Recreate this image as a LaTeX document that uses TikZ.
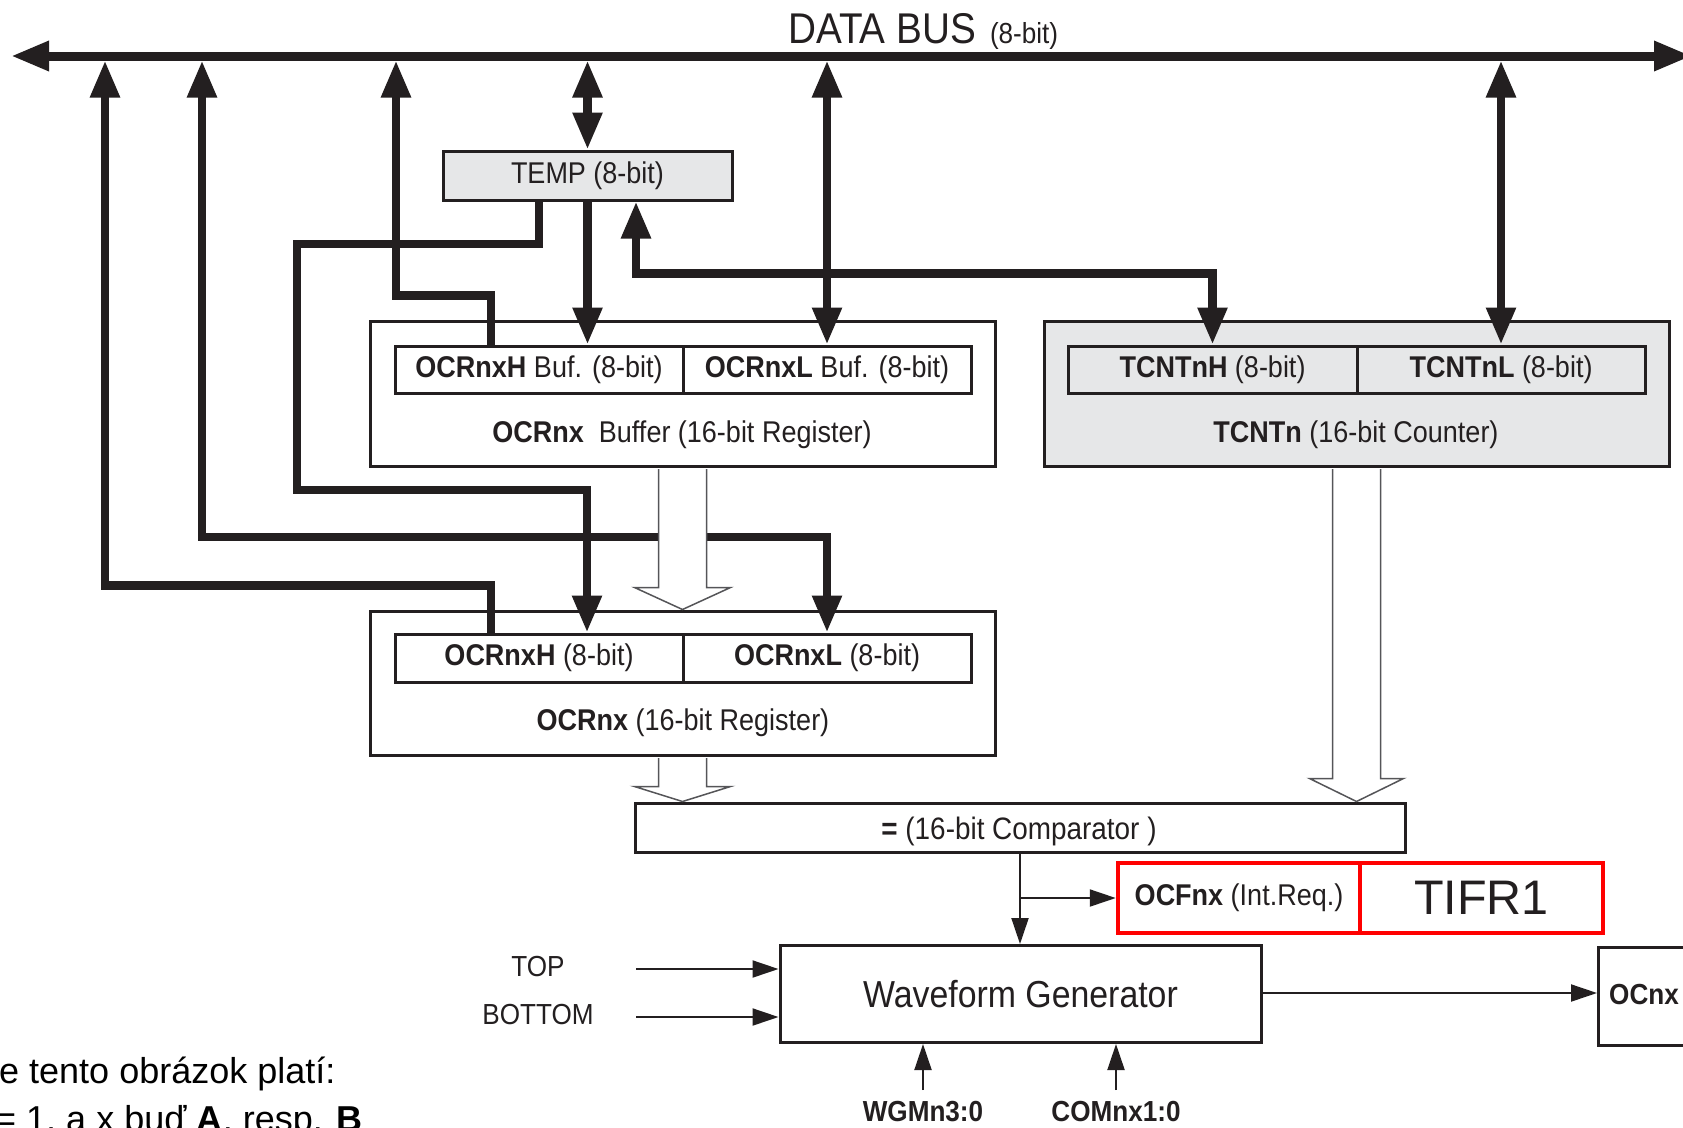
\documentclass[tikz,border=0pt]{standalone}
\usepackage{fontspec}
\setmainfont{Liberation Sans}[FakeStretch=0.9]
\newfontfamily\plainsans{Liberation Sans}
\usetikzlibrary{arrows.meta,calc}
\definecolor{ink}{RGB}{35,31,32}
\definecolor{regfill}{RGB}{230,231,232}
\definecolor{hollowc}{RGB}{85,85,88}
\newcommand{\setfs}[1]{\fontsize{#1}{#1}\selectfont}
\tikzset{
  bigtip/.tip={Triangle[length=37pt,width=28pt]},
  bustip/.tip={Triangle[length=38pt,width=28pt]},
  smalltip/.tip={Triangle[length=26pt,width=17pt]},
  regbox/.style={draw=ink, line width=3pt, inner sep=0pt, text=ink, fill=white},
  redbox/.style={draw=red, line width=4.5pt, inner sep=0pt, text=ink},
  lbl/.style={inner sep=0pt, text=ink},
  wire/.style={draw=ink, line width=8.5pt},
  thinw/.style={draw=ink, line width=2pt},
  hollow/.style={draw=hollowc, fill=white, line width=1.5pt}
}
\newcommand{\hollowarr}[4]{%
  \filldraw[hollow] ($(#1)+(-24,1.5)$) -- ($(#2)+(-24,-#3)$) -- ($(#2)+(-#4,-#3)$) -- (#2)
    -- ($(#2)+(#4,-#3)$) -- ($(#2)+(24,-#3)$) -- ($(#1)+(24,1.5)$);}
\begin{document}
\begin{tikzpicture}[x=1pt,y=-1pt]
\useasboundingbox (0,0) rectangle (1683,1127);
\clip (0,0) rectangle (1683,1127);
\fill[white] (0,0) rectangle (1683,1127);

% bus
\coordinate (busL) at (11,56);
\coordinate (busR) at (1692,56);
\coordinate (b105) at (105,60.5);
\coordinate (b202) at (202,60.5);
\coordinate (b396) at (396,60.5);
\coordinate (b587) at (587.5,60.5);
\coordinate (b827) at (827,60.5);
\coordinate (b1501) at (1501,60.5);
\node[anchor=base west, lbl] (dbus) at (788,43) {\setfs{43}DATA BUS\hspace{14pt}\setfs{29}(8-bit)};

% boxes
\node[regbox, fill=regfill, minimum width=289pt, minimum height=49pt, font=\setfs{30}] (temp) at (587.5,175.5) {TEMP (8-bit)};

\node[regbox, minimum width=625pt, minimum height=145pt] (bufouter) at (682.5,393.5) {};
\node[regbox, minimum width=288pt, minimum height=47pt, font=\setfs{30}] (bufH) at (539,369.5) {\textbf{OCRnxH} Buf. (8-bit)};
\node[regbox, minimum width=288pt, minimum height=47pt, font=\setfs{30}] (bufL) at (827,369.5) {\textbf{OCRnxL} Buf. (8-bit)};
\node[lbl, font=\setfs{30}] (buflbl) at (682,435) {\textbf{OCRnx}\hspace{0.5em}Buffer (16-bit Register)};

\node[regbox, minimum width=625pt, minimum height=144pt] (regouter) at (682.5,683) {};
\node[regbox, minimum width=288pt, minimum height=48pt, font=\setfs{30}] (regH) at (539,658) {\textbf{OCRnxH} (8-bit)};
\node[regbox, minimum width=288pt, minimum height=48pt, font=\setfs{30}] (regL) at (827,658) {\textbf{OCRnxL} (8-bit)};
\node[lbl, font=\setfs{30}] (reglbl) at (683,723) {\textbf{OCRnx} (16-bit Register)};

\node[regbox, fill=regfill, minimum width=625pt, minimum height=145pt] (tcnt) at (1356.5,393.5) {};
\node[regbox, fill=regfill, minimum width=289pt, minimum height=47pt, font=\setfs{30}] (tH) at (1212.5,369.5) {\textbf{TCNTnH} (8-bit)};
\node[regbox, fill=regfill, minimum width=288pt, minimum height=47pt, font=\setfs{30}] (tL) at (1501,369.5) {\textbf{TCNTnL} (8-bit)};
\node[lbl, font=\setfs{30}] (tlbl) at (1356,435) {\textbf{TCNTn} (16-bit Counter)};

\node[regbox, minimum width=770pt, minimum height=49pt] (comp) at (1020,827.5) {};
\node[lbl, font=\setfs{31}] (complbl) at (1019,831) {\textbf{=} (16-bit Comparator )};

\node[redbox, minimum width=242pt, minimum height=70pt, font=\setfs{30}] (ocf) at (1239,898) {\textbf{OCFnx} (Int.Req.)};
\node[redbox, minimum width=243pt, minimum height=70pt, font=\plainsans\setfs{48.5}] (tifr) at (1481.5,898) {TIFR1};

\node[regbox, minimum width=481pt, minimum height=97pt, font=\setfs{37.6}] (wg) at (1020.5,994) {Waveform Generator};
\node[regbox, minimum width=110pt, minimum height=98pt, anchor=west] (ocnx) at (1597,996) {};
\node[lbl, anchor=west, font=\setfs{29}] (ocnxlbl) at (1609,995) {\textbf{OCnx}};

\node[lbl, font=\setfs{29}] (toplbl) at (538,967) {TOP};
\node[lbl, font=\setfs{29}] (botlbl) at (538,1015) {BOTTOM};
\node[lbl, font=\setfs{29}] (wgm) at (923,1112) {\textbf{WGMn3:0}};
\node[lbl, font=\setfs{29}] (com) at (1116,1112) {\textbf{COMnx1:0}};

\coordinate (topin) at (636,969);
\coordinate (botin) at (636,1017);
\coordinate (wgmin) at (923,1090);
\coordinate (comin) at (1116,1090);

% thick wires
\draw[wire, -bigtip] ([xshift=-48pt]regH.north) -- ++(0,-47) -| (b105);
\draw[wire, bigtip-bigtip] (b202) -- ++(0,476.5) -| (regL.north);
\draw[wire, -bigtip] ([xshift=-48pt]bufH.north) -- ++(0,-49) -| (b396);
\draw[wire, -bigtip] ([xshift=-48.5pt]temp.south) |- (297,244) |- (587,490) -- ([xshift=48pt]regH.north);
\draw[wire, -bigtip] (temp.south) -- (temp.south |- bufH.north);
\draw[wire, bigtip-bigtip] ([xshift=48.5pt]temp.south) -- ++(0,72) -| (tH.north);
\draw[wire, bigtip-bigtip] (b587) -- (temp.north);
\draw[wire, bigtip-bigtip] (b827) -- (bufL.north);
\draw[wire, bigtip-bigtip] (b1501) -- (tL.north);
\draw[draw=ink, line width=9pt, bustip-bustip] (busL) -- (busR);

% hollow arrows
\hollowarr{bufouter.south}{regouter.north}{22}{48}
\hollowarr{regouter.south}{regouter.south |- comp.north}{15}{48}
\hollowarr{tcnt.south}{tcnt.south |- comp.north}{23}{47}

% thin arrows
\draw[thinw, -smalltip] (comp.south) -- (comp.south |- wg.north);
\draw[thinw, -smalltip] (comp.south |- ocf.west) -- (ocf.west);
\draw[thinw, -smalltip] (topin) -- (topin -| wg.west);
\draw[thinw, -smalltip] (botin) -- (botin -| wg.west);
\draw[thinw, -smalltip] (wgmin) -- (wgmin |- wg.south);
\draw[thinw, -smalltip] (comin) -- (comin |- wg.south);
\draw[thinw, -smalltip] ([yshift=1pt]wg.east) -- ([yshift=1pt]wg.east -| ocnx.west);

% note text
\node[anchor=base west, inner sep=0pt, font=\plainsans\setfs{36}] (note1) at (-1,1083) {e tento obrázok platí:};
\node[anchor=base west, inner sep=0pt, font=\plainsans\setfs{36}] (note2) at (-5,1131) {= 1, a x buď \textbf{A}, resp. \textbf{B}};
\end{tikzpicture}
\end{document}
